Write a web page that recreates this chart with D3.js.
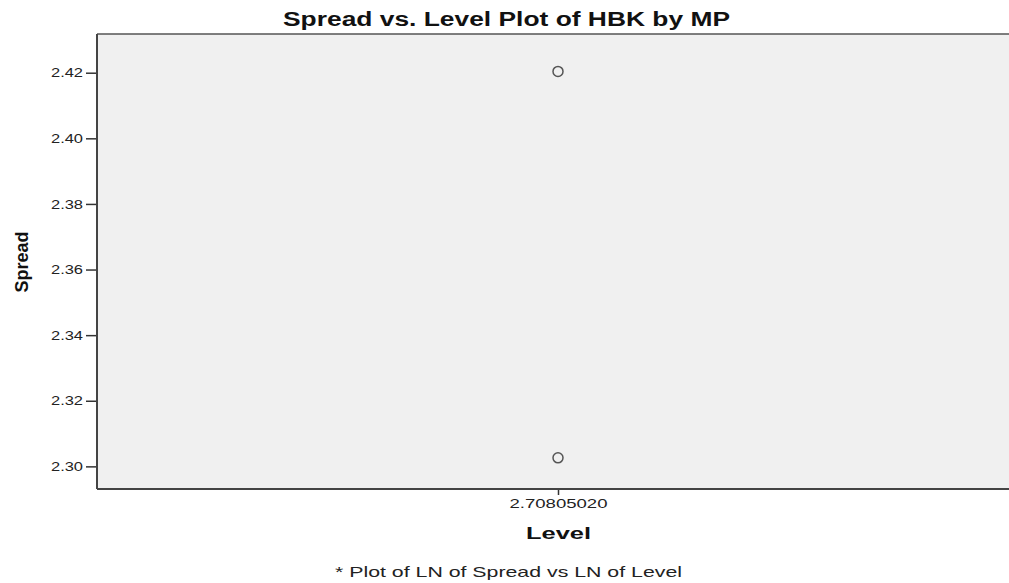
<!DOCTYPE html>
<html>
<head>
<meta charset="utf-8">
<script src="https://cdn.jsdelivr.net/npm/d3@7"></script>
<style>
body { margin: 0; background: #fff; }
</style>
</head>
<body>
<script>
// values
var levels = [2.70805020, 2.70805020];
var spreads = [2.4204, 2.3026];
var yTicks = [2.30, 2.32, 2.34, 2.36, 2.38, 2.40, 2.42];
var xTickLabels = ["2.70805020"];

var w = 1009, h = 583;
var padL = 97, padT = 34, padR = 1019, padB = 489;
var font = "Arial, 'Liberation Sans', sans-serif";

var svg = d3.select("body").append("svg")
    .attr("width", w)
    .attr("height", h);

var x = d3.scaleLinear()
    .domain([levels[0] - 0.5, levels[0] + 0.5])
    .range([padL, padR]);
var y = d3.scaleLinear()
    .domain([2.2931, 2.4318])
    .range([padB, padT]);

svg.append("rect")
    .attr("x", padL).attr("y", padT)
    .attr("width", padR - padL).attr("height", padB - padT)
    .attr("fill", "#f0f0f0");

// y axis
var yAxis = svg.append("g")
    .attr("transform", "translate(" + padL + ",0)")
    .call(d3.axisLeft(y).tickValues(yTicks).tickFormat(d3.format(".2f")).tickSize(11).tickSizeOuter(0));
yAxis.select(".domain").remove();
yAxis.selectAll("line").attr("stroke", "#333").attr("stroke-width", 1.5);
yAxis.selectAll("text")
    .attr("fill", "#222")
    .style("font-family", font)
    .style("font-size", "13px")
    .attr("x", -14)
    .attr("textLength", 32)
    .attr("lengthAdjust", "spacingAndGlyphs");

// x axis
var xAxis = svg.append("g")
    .attr("transform", "translate(0," + padB + ")")
    .call(d3.axisBottom(x).tickValues([levels[0]]).tickFormat(function (d, i) { return xTickLabels[i]; }).tickSize(6).tickSizeOuter(0));
xAxis.select(".domain").remove();
xAxis.selectAll("line").attr("stroke", "#333").attr("stroke-width", 1.5);
xAxis.selectAll("text")
    .attr("fill", "#222")
    .style("font-family", font)
    .style("font-size", "13px")
    .attr("y", 10)
    .attr("textLength", 98)
    .attr("lengthAdjust", "spacingAndGlyphs");

// frame
svg.append("line").attr("x1", padL).attr("x2", w).attr("y1", padT).attr("y2", padT)
    .attr("stroke", "#555").attr("stroke-width", 1.5);
svg.append("line").attr("x1", padL).attr("x2", w).attr("y1", padB).attr("y2", padB)
    .attr("stroke", "#444").attr("stroke-width", 2);
svg.append("line").attr("x1", padL).attr("x2", padL).attr("y1", padT).attr("y2", padB)
    .attr("stroke", "#444").attr("stroke-width", 2);

// points
svg.selectAll("circle.pt")
    .data(spreads)
    .enter()
    .append("circle")
    .attr("class", "pt")
    .attr("cx", function (d, i) { return x(levels[i]); })
    .attr("cy", function (d) { return y(d); })
    .attr("r", 5)
    .attr("fill", "none")
    .attr("stroke", "#555")
    .attr("stroke-width", 1.5);

// titles
svg.append("text")
    .attr("x", 506.5).attr("y", 26)
    .attr("text-anchor", "middle")
    .style("font-family", font)
    .style("font-weight", "bold")
    .style("font-size", "20px")
    .attr("fill", "#111")
    .attr("textLength", 447)
    .attr("lengthAdjust", "spacingAndGlyphs")
    .text("Spread vs. Level Plot of HBK by MP");

svg.append("text")
    .attr("transform", "translate(28,262) rotate(-90)")
    .attr("text-anchor", "middle")
    .style("font-family", "'Liberation Sans Narrow', 'Arial Narrow', sans-serif")
    .style("font-weight", "bold")
    .style("font-size", "19px")
    .attr("fill", "#111")
    .attr("textLength", 61)
    .attr("lengthAdjust", "spacingAndGlyphs")
    .text("Spread");

svg.append("text")
    .attr("x", 558.5).attr("y", 539)
    .attr("text-anchor", "middle")
    .style("font-family", font)
    .style("font-weight", "bold")
    .style("font-size", "16px")
    .attr("fill", "#111")
    .attr("textLength", 65)
    .attr("lengthAdjust", "spacingAndGlyphs")
    .text("Level");

svg.append("text")
    .attr("x", 508.5).attr("y", 577)
    .attr("text-anchor", "middle")
    .style("font-family", font)
    .style("font-size", "15px")
    .attr("fill", "#222")
    .attr("textLength", 347)
    .attr("lengthAdjust", "spacingAndGlyphs")
    .text("* Plot of LN of Spread vs LN of Level");
</script>
</body>
</html>
